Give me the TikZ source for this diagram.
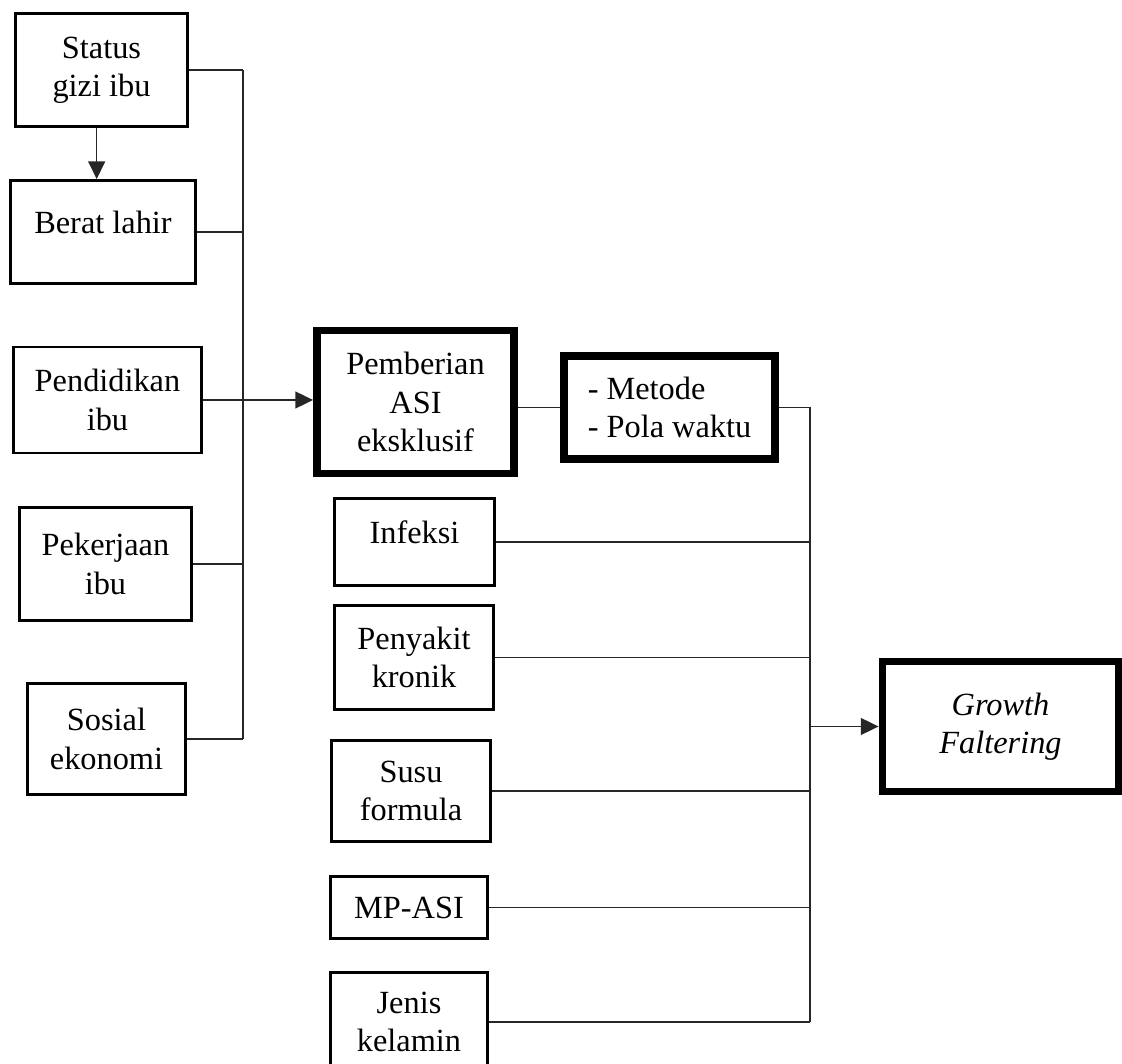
\documentclass[tikz,border=0pt]{standalone}
\usepackage{fontspec}
\setmainfont{Liberation Serif}
\usepackage{tikz}
\usetikzlibrary{arrows.meta,positioning}

\begin{document}
\begin{tikzpicture}[
  x=0.0125cm, y=-0.0125cm,
  box/.style={rectangle, draw=black, line width=1pt, inner sep=0pt,
    align=center, font=\fontsize{11.5}{13.6}\selectfont},
  bigbox/.style={box, line width=2.8pt},
  wh/.style 2 args={minimum width=#1*0.0125cm, minimum height=#2*0.0125cm},
  link/.style={line width=0.55pt, draw=black!85},
  arr/.style={link, -{Triangle[length=6.3pt,width=6pt]}}
]
\useasboundingbox (0,0) rectangle (1122,1064);

% left column
\node[box, wh={172}{113}] (L1) at (101.5,70) {Status\\gizi ibu};
\node[box, wh={185}{103}, text depth=0.25cm] (L2) at (103,232) {Berat lahir};
\node[box, wh={188}{106}] (L3) at (107.5,400) {Pendidikan\\ibu};
\node[box, wh={172}{113}] (L4) at (105.5,564) {Pekerjaan\\ibu};
\node[box, wh={158}{111}] (L5) at (106.5,739) {Sosial\\ekonomi};

% middle
\node[bigbox, wh={197}{143}] (P) at (415.5,402) {Pemberian\\ASI\\eksklusif};
\node[bigbox, wh={211}{103}, align=left] (M) at (669.5,407.5) {- Metode\\- Pola waktu};

\node[box, wh={160}{87}, text depth=0.25cm] (R1) at (414.5,542) {Infeksi};
\node[box, wh={159}{104}] (R2) at (414,657.5) {Penyakit\\kronik};
\node[box, wh={159}{101}] (R3) at (411,791) {Susu\\formula};
\node[box, wh={157}{62}] (R4) at (409,907.5) {MP-ASI};
\node[box, wh={157}{99}] (R5) at (409,1022) {Jenis\\kelamin};

% outcome
\node[bigbox, wh={236}{130}, font=\fontsize{11.5}{13.6}\selectfont\itshape] (G) at (1000.5,726.5) {Growth\\Faltering};

\coordinate (busL) at (243,67);
\coordinate (busR) at (810,412);

\draw[arr] ([xshift=-0.06cm]L1.south) -- ([xshift=-0.06cm]L1.south |- L2.north);

\draw[link] (L1.east) -- (L1.east -| busL);
\draw[link] (L2.east) -- (L2.east -| busL);
\draw[link] (L4.east) -- (L4.east -| busL);
\draw[link] (L5.east) -- (L5.east -| busL);
\draw[link] (L1.east -| busL) -- (L5.east -| busL);
\draw[arr] (L3.east) -- (P.west |- L3.east);

\draw[link] (P.east |- M.west) -- (M.west);
\draw[link] (M.east) -- (M.east -| busR);
\foreach \n in {R1,R2,R3,R4,R5}
  \draw[link] (\n.east) -- (\n.east -| busR);
\draw[link] (M.east -| busR) -- (R5.east -| busR);
\draw[arr] (G.west -| busR) -- (G.west);

\end{tikzpicture}
\end{document}
